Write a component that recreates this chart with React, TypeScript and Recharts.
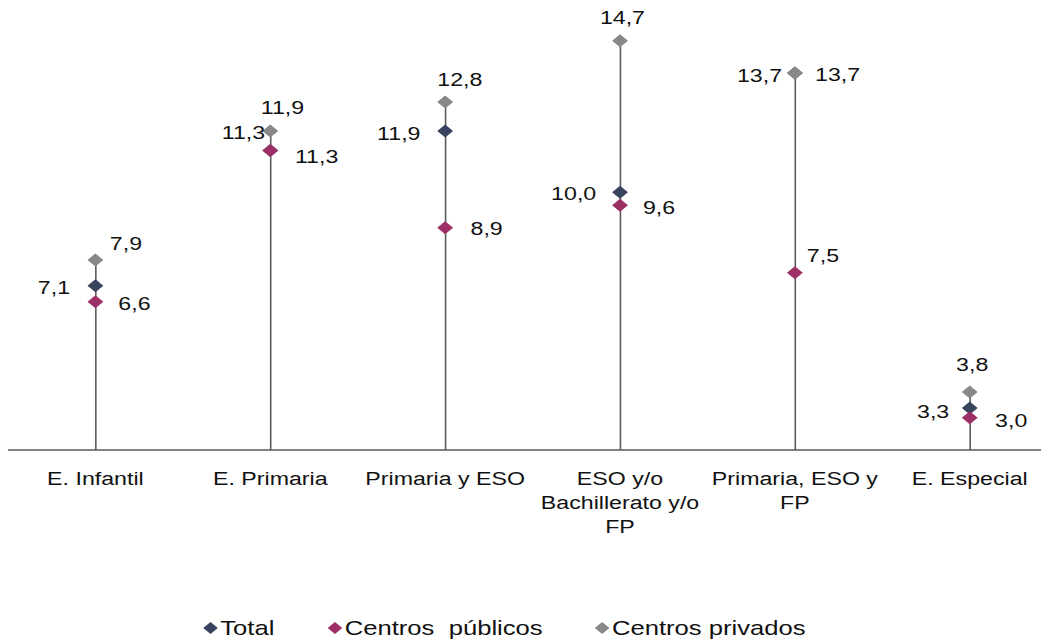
import React from 'react';
import { ComposedChart, Bar, Line, XAxis, YAxis, LabelList, Legend } from 'recharts';

const categories = [
  'E. Infantil',
  'E. Primaria',
  'Primaria y ESO',
  'ESO y/o Bachillerato y/o FP',
  'Primaria, ESO y FP',
  'E. Especial',
];
const tickLines = [
  ['E. Infantil'],
  ['E. Primaria'],
  ['Primaria y ESO'],
  ['ESO y/o', 'Bachillerato y/o', 'FP'],
  ['Primaria, ESO y', 'FP'],
  ['E. Especial'],
];
const total = [7.1, 11.3, 11.9, 10.0, 13.7, 3.3];
const publicos = [6.6, 11.3, 8.9, 9.6, 7.5, 3.0];
const privados = [7.9, 11.9, 12.8, 14.7, 13.7, 3.8];
const seriesNames = ['Total', 'Centros  públicos', 'Centros privados'];

const data = categories.map((c, i) => ({
  category: c,
  total: total[i],
  publicos: publicos[i],
  privados: privados[i],
}));

// the reference is horizontally stretched
const SX = 1.22;
const CW = 860;
const CH = 632;
const FONT = '"Liberation Sans", Arial, sans-serif';
const FS = 19;
const LEGEND_FS = 21;
const COLORS: Record<string, string> = {
  total: '#38445e',
  publicos: '#9c2f66',
  privados: '#888888',
};

// label text-centre offsets from the marker (chart units)
const LABEL_OFFSETS: Record<string, number[][]> = {
  privados: [[25, -17], [10, -24], [12, -23], [2, -24], [35, 1], [2, -28]],
  total: [[-34, 2], [-22, -18], [-38, 2], [-38, 1], [-29, 2], [-30, 3]],
  publicos: [[32, 1], [38, 6], [34, 1], [32, 2], [23, -18], [34, 3]],
};

const fmt = (v: number) => v.toFixed(1).replace('.', ',');

const diamond = (color: string) => (props: any) => {
  const { cx, cy, index } = props;
  if (cx == null || cy == null) return <g key={`d-${index}`} />;
  const h = 6.5;
  return (
    <polygon
      key={`d-${color}-${index}`}
      points={`${cx},${cy - h} ${cx + h},${cy} ${cx},${cy + h} ${cx - h},${cy}`}
      fill={color}
    />
  );
};

const labelFor = (key: string) => (props: any) => {
  const { x, y, value, index } = props;
  const off = LABEL_OFFSETS[key][index] || [0, 0];
  return (
    <text
      key={`l-${key}-${index}`}
      x={x + off[0]}
      y={y + off[1]}
      textAnchor="middle"
      dominantBaseline="central"
      fontFamily={FONT}
      fontSize={FS}
      fill="#111"
    >
      {fmt(value)}
    </text>
  );
};

const StemShape = (props: any) => {
  const { x, y, width, height } = props;
  const cx = x + width / 2;
  return <line x1={cx} x2={cx} y1={y} y2={y + height} stroke="#5a5a5a" strokeWidth={1.3} />;
};

const Tick = (props: any) => {
  const { x, y, payload } = props;
  const lines = tickLines[payload.index] || [payload.value];
  return (
    <g>
      {lines.map((ln, i) => (
        <text
          key={i}
          x={x}
          y={y + 20 + i * 24}
          textAnchor="middle"
          dominantBaseline="central"
          fontFamily={FONT}
          fontSize={FS}
          fill="#111"
        >
          {ln}
        </text>
      ))}
    </g>
  );
};

const LEGEND_LEFTS = [160, 262, 481];
const LEGEND_KEYS = ['total', 'publicos', 'privados'];

const LegendContent = () => (
  <div style={{ position: 'relative', width: CW, height: 30 }}>
    {LEGEND_KEYS.map((k, i) => (
      <div
        key={k}
        style={{
          position: 'absolute',
          left: LEGEND_LEFTS[i],
          top: 0,
          height: 30,
          display: 'flex',
          alignItems: 'center',
          fontFamily: FONT,
          fontSize: LEGEND_FS,
          color: '#111',
          whiteSpace: 'pre',
        }}
      >
        <svg width={12} height={12} style={{ marginRight: 2 }}>
          <polygon points="6,0 12,6 6,12 0,6" fill={COLORS[k]} />
        </svg>
        <span>{seriesNames[i]}</span>
      </div>
    ))}
  </div>
);

export default function App() {
  return (
    <div style={{ width: 1041, height: CH, overflow: 'hidden' }}>
      <div style={{ width: CW, height: CH, transform: `scaleX(${SX})`, transformOrigin: '0 0' }}>
        <ComposedChart
          width={CW}
          height={CH}
          data={data}
          margin={{ top: 0, right: 0, bottom: 0, left: 0 }}
        >
          <XAxis
            dataKey="category"
            type="category"
            height={160}
            interval={0}
            tickLine={false}
            axisLine={{ stroke: '#5a5a5a', strokeWidth: 1.5 }}
            tick={<Tick />}
          />
          <YAxis hide type="number" domain={[2, 15.72]} allowDataOverflow />
          <Legend
            verticalAlign="bottom"
            content={<LegendContent />}
            wrapperStyle={{ position: 'absolute', left: 0, top: 605, width: CW, height: 30 }}
          />
          <Bar dataKey="privados" barSize={2} shape={<StemShape />} isAnimationActive={false} legendType="none" />
          <Line
            dataKey="total"
            stroke="none"
            dot={diamond(COLORS.total)}
            activeDot={false}
            isAnimationActive={false}
          >
            <LabelList dataKey="total" content={labelFor('total')} />
          </Line>
          <Line
            dataKey="publicos"
            stroke="none"
            dot={diamond(COLORS.publicos)}
            activeDot={false}
            isAnimationActive={false}
          >
            <LabelList dataKey="publicos" content={labelFor('publicos')} />
          </Line>
          <Line
            dataKey="privados"
            stroke="none"
            dot={diamond(COLORS.privados)}
            activeDot={false}
            isAnimationActive={false}
          >
            <LabelList dataKey="privados" content={labelFor('privados')} />
          </Line>
        </ComposedChart>
      </div>
    </div>
  );
}
